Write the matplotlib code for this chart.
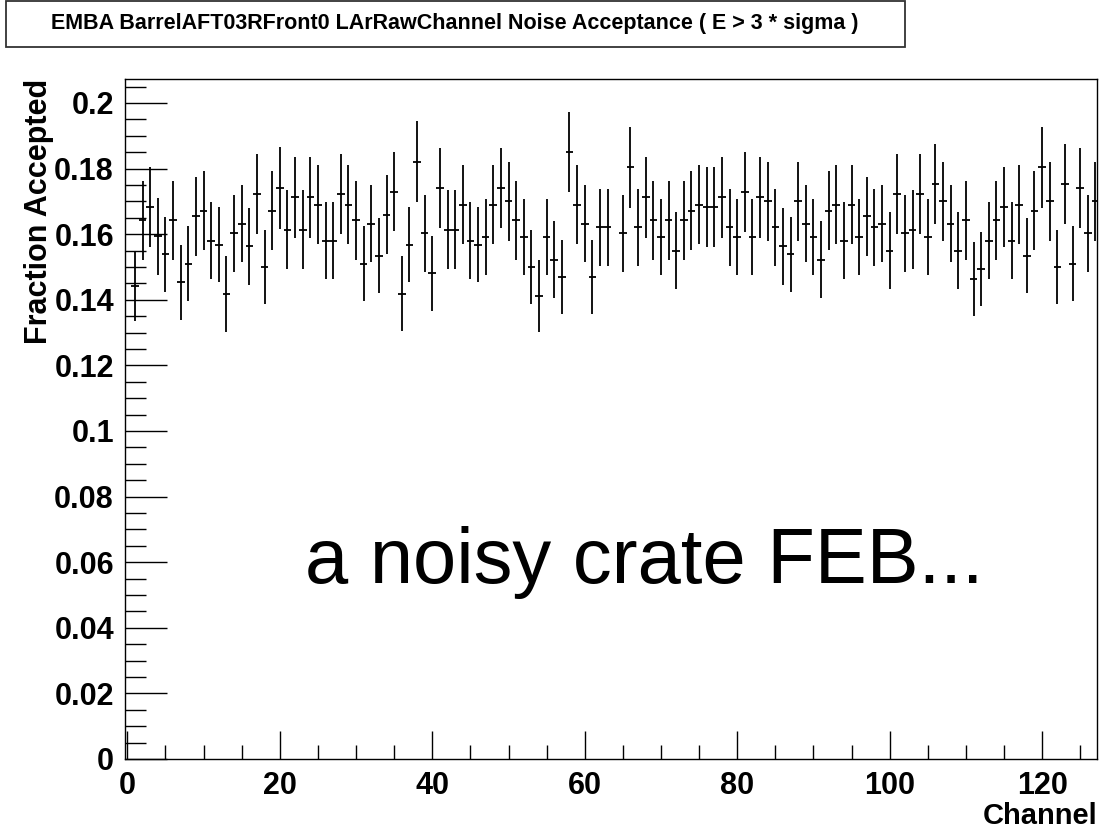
import numpy as np
import matplotlib
matplotlib.use("Agg")
import matplotlib.pyplot as plt
from matplotlib.patches import Rectangle
from matplotlib.ticker import MultipleLocator

# Fraction accepted per channel (channels 0 and 64 are empty)
channels = list(range(128))
fraction = [
    np.nan, 0.1441, 0.1642, 0.1683, 0.1593, 0.1539, 0.1642, 0.1453,
    0.1510, 0.1654, 0.1672, 0.1580, 0.1568, 0.1418, 0.1603, 0.1632,
    0.1563, 0.1723, 0.1499, 0.1672, 0.1741, 0.1614, 0.1712, 0.1614,
    0.1712, 0.1690, 0.1580, 0.1580, 0.1723, 0.1690, 0.1642, 0.1510,
    0.1632, 0.1534, 0.1659, 0.1729, 0.1418, 0.1568, 0.1821, 0.1603,
    0.1481, 0.1741, 0.1614, 0.1614, 0.1690, 0.1580, 0.1568, 0.1591,
    0.1690, 0.1741, 0.1700, 0.1642, 0.1591, 0.1499, 0.1412, 0.1591,
    0.1522, 0.1469, 0.1850, 0.1690, 0.1632, 0.1469, 0.1621, 0.1621,
    np.nan, 0.1603, 0.1804, 0.1621, 0.1712, 0.1642, 0.1591, 0.1642,
    0.1550, 0.1642, 0.1672, 0.1690, 0.1683, 0.1683, 0.1712, 0.1621,
    0.1591, 0.1729, 0.1591, 0.1712, 0.1700, 0.1621, 0.1563, 0.1539,
    0.1700, 0.1632, 0.1591, 0.1522, 0.1672, 0.1690, 0.1580, 0.1690,
    0.1591, 0.1654, 0.1621, 0.1632, 0.1550, 0.1723, 0.1603, 0.1614,
    0.1723, 0.1591, 0.1753, 0.1700, 0.1632, 0.1550, 0.1642, 0.1463,
    0.1494, 0.1580, 0.1642, 0.1683, 0.1580, 0.1690, 0.1534, 0.1672,
    0.1804, 0.1700, 0.1499, 0.1753, 0.1510, 0.1741, 0.1603, 0.1700,
]
errors = [
    np.nan, 0.0105, 0.0121, 0.0122, 0.0117, 0.0114, 0.0121, 0.0114,
    0.0115, 0.0121, 0.0121, 0.0117, 0.0115, 0.0115, 0.0117, 0.0118,
    0.0118, 0.0121, 0.0113, 0.0121, 0.0124, 0.0121, 0.0124, 0.0121,
    0.0124, 0.0121, 0.0117, 0.0117, 0.0121, 0.0121, 0.0121, 0.0115,
    0.0118, 0.0114, 0.0121, 0.0120, 0.0114, 0.0115, 0.0123, 0.0117,
    0.0114, 0.0123, 0.0121, 0.0121, 0.0121, 0.0117, 0.0115, 0.0117,
    0.0121, 0.0123, 0.0120, 0.0121, 0.0117, 0.0113, 0.0110, 0.0117,
    0.0118, 0.0113, 0.0123, 0.0121, 0.0118, 0.0113, 0.0117, 0.0117,
    np.nan, 0.0117, 0.0123, 0.0118, 0.0124, 0.0121, 0.0117, 0.0121,
    0.0117, 0.0121, 0.0121, 0.0121, 0.0121, 0.0121, 0.0124, 0.0118,
    0.0117, 0.0121, 0.0117, 0.0124, 0.0120, 0.0118, 0.0118, 0.0114,
    0.0120, 0.0118, 0.0117, 0.0118, 0.0121, 0.0121, 0.0117, 0.0121,
    0.0117, 0.0121, 0.0118, 0.0118, 0.0117, 0.0121, 0.0117, 0.0121,
    0.0121, 0.0117, 0.0123, 0.0120, 0.0118, 0.0117, 0.0121, 0.0114,
    0.0113, 0.0117, 0.0121, 0.0121, 0.0117, 0.0121, 0.0114, 0.0121,
    0.0123, 0.0120, 0.0113, 0.0123, 0.0115, 0.0123, 0.0117, 0.0120,
]

title = "EMBA BarrelAFT03RFront0 LArRawChannel Noise Acceptance ( E > 3 * sigma )"
note = "a noisy crate FEB..."

plt.rcParams["font.family"] = ["Liberation Sans", "DejaVu Sans"]

W, H = 1099, 833
fig = plt.figure(figsize=(W / 100, H / 100), dpi=100)
fig.patch.set_facecolor("white")

ax = fig.add_axes([125 / W, 1 - 759 / H, (1097 - 125) / W, (759 - 79) / H])
ax.errorbar(channels, fraction, yerr=errors, xerr=0.5, fmt="none",
            ecolor="black", elinewidth=1.3, capsize=0)

ax.set_xlim(-0.31, 127.2)
ax.set_ylim(0, 0.2073)

ax.xaxis.set_major_locator(MultipleLocator(20))
ax.xaxis.set_minor_locator(MultipleLocator(5))
ax.yaxis.set_major_locator(MultipleLocator(0.02))
ax.yaxis.set_minor_locator(MultipleLocator(0.005))
ax.yaxis.set_major_formatter(plt.FuncFormatter(lambda v, p: f"{v:g}"))

ax.tick_params(which="both", direction="in", top=False, right=False,
               width=1, colors="black")
ax.tick_params(which="major", length=20, labelsize=22)
ax.tick_params(axis="x", which="major", pad=9)
ax.tick_params(axis="y", which="major", length=30, pad=8)
ax.tick_params(axis="x", which="minor", length=10)
ax.tick_params(axis="y", which="minor", length=15)
for lab in ax.get_xticklabels() + ax.get_yticklabels():
    lab.set_fontweight("bold")
for sp in ax.spines.values():
    sp.set_linewidth(1)

ax.set_xlabel("Channel", loc="right", fontsize=21, fontweight="bold", labelpad=0)
ax.set_ylabel("Fraction Accepted", loc="top", fontsize=22, fontweight="bold", labelpad=0)

# title box
fig.add_artist(Rectangle((6 / W, 1 - 47 / H), 899 / W, 46 / H, transform=fig.transFigure,
                         facecolor="white", edgecolor="#333333", linewidth=1.3))
fig.text(455 / W, 1 - 24 / H, title, ha="center", va="center",
         fontsize=15.5, fontweight="bold")

fig.text(305 / W, 1 - 583 / H, note, ha="left", va="baseline", fontsize=56)

fig.savefig("out.png", dpi=100, facecolor="white")
